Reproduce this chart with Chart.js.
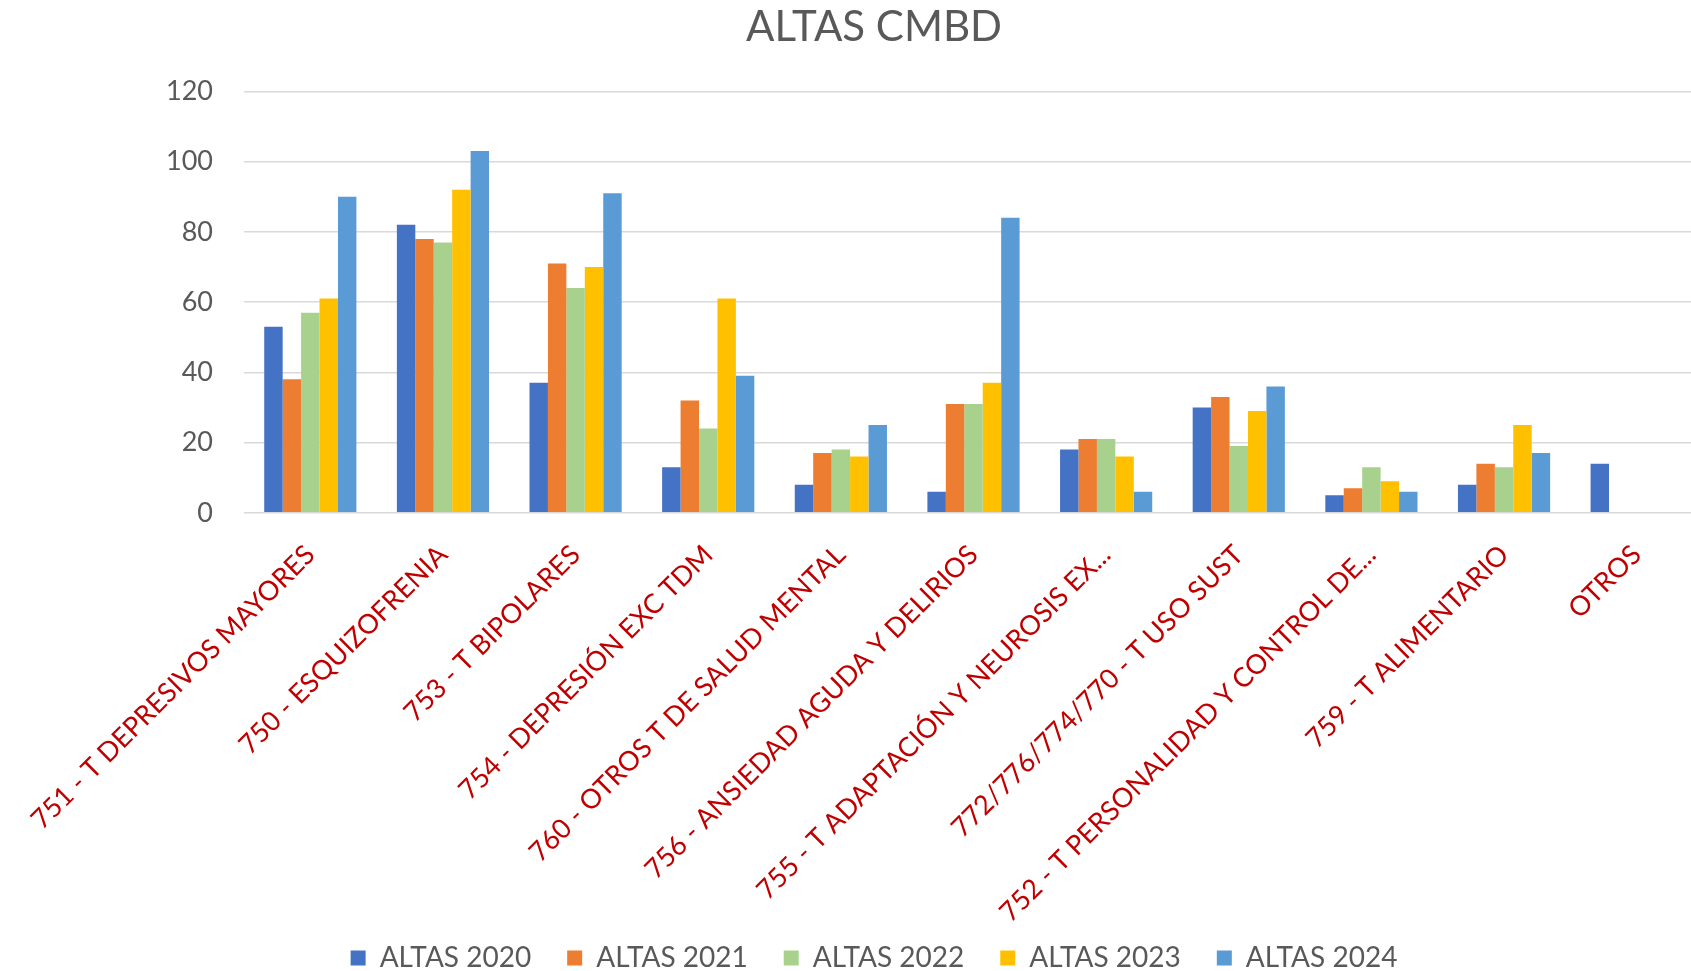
<!DOCTYPE html>
<html>
<head>
<meta charset="utf-8">
<title>ALTAS CMBD</title>
<script src="https://cdn.jsdelivr.net/npm/chart.js@4"></script>
<style>
    html, body { margin: 0; padding: 0; background: #fff; overflow: hidden; }
    #wrap { width: 1748px; height: 982px; }
</style>
</head>
<body>
<div id="wrap"><canvas id="altas_cmbd"></canvas></div>
<script>
const categories = [
    "751 - T DEPRESIVOS MAYORES",
    "750 - ESQUIZOFRENIA",
    "753 - T BIPOLARES",
    "754 - DEPRESIÓN EXC TDM",
    "760 - OTROS T DE SALUD MENTAL",
    "756 - ANSIEDAD AGUDA Y DELIRIOS",
    "755 - T ADAPTACIÓN Y NEUROSIS EX...",
    "772/776/774/770 - T USO SUST",
    "752 - T PERSONALIDAD Y CONTROL DE...",
    "759 - T ALIMENTARIO",
    "OTROS"
];

const altas2020 = [53, 82, 37, 13, 8, 6, 18, 30, 5, 8, 14];
const altas2021 = [38, 78, 71, 32, 17, 31, 21, 33, 7, 14, null];
const altas2022 = [57, 77, 64, 24, 18, 31, 21, 19, 13, 13, null];
const altas2023 = [61, 92, 70, 61, 16, 37, 16, 29, 9, 25, null];
const altas2024 = [90, 103, 91, 39, 25, 84, 6, 36, 6, 17, null];

const yTicks = [0, 20, 40, 60, 80, 100, 120];

const seriesLabels = ["ALTAS 2020", "ALTAS 2021", "ALTAS 2022", "ALTAS 2023", "ALTAS 2024"];
const seriesColors = ["#4472C4", "#ED7D31", "#A9D18E", "#FFC000", "#5B9BD5"];
const seriesValues = [altas2020, altas2021, altas2022, altas2023, altas2024];

const gray = '#595959';
const fontFamily = 'Lato, "Open Sans", sans-serif';

new Chart(
    document.getElementById('altas_cmbd'),
    {
        type: 'bar',
        data: {
            labels: categories,
            datasets: seriesLabels.map((label, i) => ({
                label: label,
                data: seriesValues[i],
                backgroundColor: seriesColors[i],
                borderWidth: 0,
                categoryPercentage: 0.695,
                barPercentage: 1.0
            }))
        },
        options: {
            responsive: true,
            maintainAspectRatio: false,
            animation: false,
            layout: {
                padding: 0
            },
            plugins: {
                title: {
                    display: true,
                    text: "ALTAS CMBD",
                    color: gray,
                    font: { family: fontFamily, size: 42, weight: 'normal' },
                    padding: { top: 2, bottom: 39 }
                },
                legend: {
                    display: true,
                    position: 'bottom',
                    // empty title with negative padding: pulls the legend up so the long labels are not cut
                    title: {
                        display: true,
                        text: '',
                        font: { size: 1 },
                        padding: { top: -16, bottom: 0 }
                    },
                    labels: {
                        color: gray,
                        font: { family: fontFamily, size: 28 },
                        boxWidth: 15,
                        boxHeight: 15,
                        padding: 36
                    }
                },
                tooltip: { enabled: false }
            },
            scales: {
                x: {
                    type: 'category',
                    grid: { display: false },
                    border: { display: false },
                    ticks: {
                        color: '#C00000',
                        font: { family: fontFamily, size: 27 },
                        autoSkip: false,
                        minRotation: 45,
                        maxRotation: 45,
                        padding: 18
                    },
                    afterFit: (scale) => { scale.height = 410; }
                },
                y: {
                    min: 0,
                    max: 120,
                    afterBuildTicks: (scale) => { scale.ticks = yTicks.map(v => ({ value: v })); },
                    grid: { color: '#D9D9D9', lineWidth: 1.5, drawTicks: false },
                    border: { display: false },
                    ticks: {
                        color: gray,
                        font: { family: fontFamily, size: 27 },
                        padding: 31
                    },
                    afterFit: (scale) => { scale.width = 244; }
                },
                // empty right strip, the original chart runs past the picture edge
                yRight: {
                    position: 'right',
                    min: 0,
                    max: 120,
                    grid: { display: false },
                    border: { display: false },
                    ticks: { display: false },
                    afterFit: (scale) => { scale.width = 45; }
                }
            }
        }
    }
);
</script>
</body>
</html>
